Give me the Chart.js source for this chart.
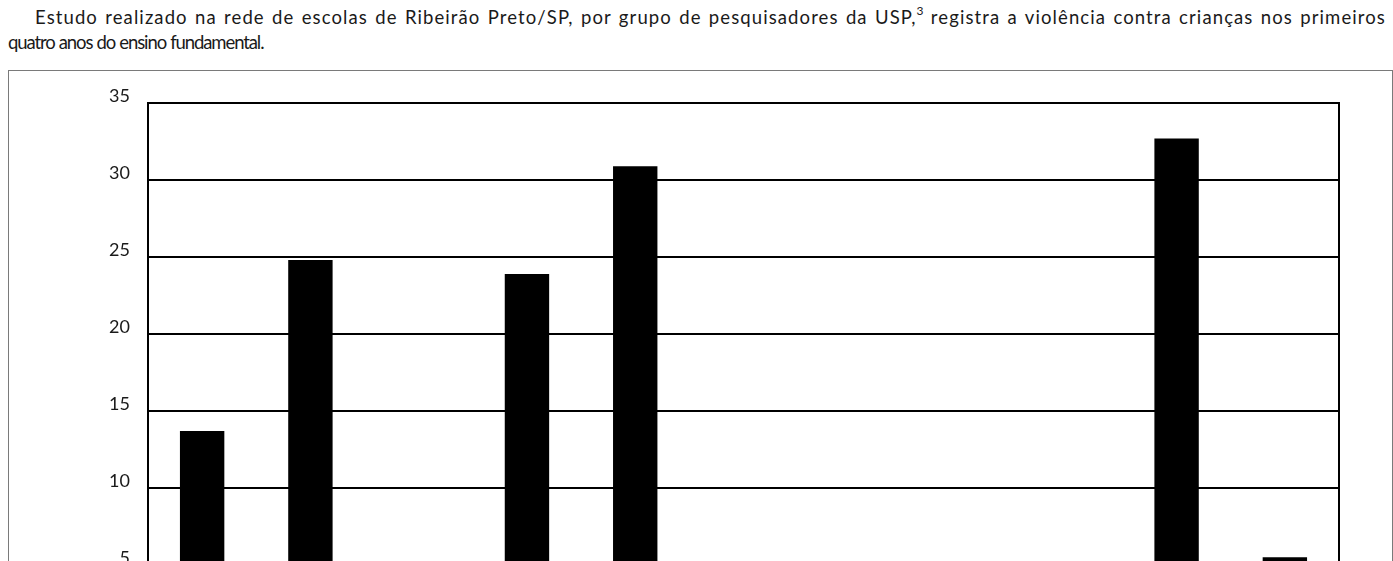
<!DOCTYPE html>
<html lang="pt-BR">
<head>
<meta charset="utf-8">
<script src="https://cdn.jsdelivr.net/npm/chart.js@4"></script>
<style>
  html, body { margin: 0; padding: 0; background: #fff; overflow: hidden; }
  body { width: 1393px; height: 561px; position: relative; font-family: Lato, "Open Sans", sans-serif; color: #1a1a1a; }
  .intro { position: absolute; left: 8px; top: 5px; width: 1378px; font-size: 18.5px; line-height: 25px; }
  .intro .l1 { padding-left: 27px; text-align: justify; text-align-last: justify; letter-spacing: 1.1px; }
  .intro .l2 { letter-spacing: -1.1px; word-spacing: 0.5px; }
  .intro sup { font-size: 12px; line-height: 0; position: relative; top: -2px; letter-spacing: 0; }
  .box { position: absolute; left: 8px; top: 70px; width: 1383px; height: 621px; border: 1px solid #7a7a7a; }
  .box canvas { display: block; }
</style>
</head>
<body>
<div class="intro">
  <div class="l1">Estudo realizado na rede de escolas de Ribeirão Preto/SP, por grupo de pesquisadores da USP,<sup>3</sup> registra a violência contra crianças nos primeiros</div>
  <div class="l2">quatro anos do ensino fundamental.</div>
</div>
<div class="box"><canvas id="chart"></canvas></div>
<script>
/* ── Dados ───────────────────────────────────── */
const categorias = ["1", "2", "3", "4", "5", "6", "7", "8", "9", "10", "11"];
const valores    = [13.7, 24.8, 0, 23.9, 30.9, 0, 0, 0, 0, 32.7, 5.5];
const ticksY     = [0, 5, 10, 15, 20, 25, 30, 35];

const fonteEixo = { family: "Lato", size: 18 };

/* ── Chart ───────────────────────────────────── */
const ctx = document.getElementById("chart").getContext("2d");
new Chart(ctx, {
  type: "bar",
  data: {
    labels: categorias,
    datasets: [
      {
        data: valores,
        backgroundColor: "#000",
        borderWidth: 0,
        barPercentage: 0.41,
        categoryPercentage: 1,
      },
    ],
  },
  options: {
    responsive: true,
    maintainAspectRatio: false,
    animation: false,
    layout: { padding: { top: 32, right: 53, bottom: 10, left: 0 } },
    scales: {
      x: {
        grid: { display: false },
        border: { color: "#000", width: 2 },
        ticks: { color: "#1a1a1a", font: fonteEixo },
        afterFit: (s) => { s.height = 40; },
      },
      y: {
        min: ticksY[0],
        max: ticksY[ticksY.length - 1],
        afterBuildTicks: (s) => { s.ticks = ticksY.map((v) => ({ value: v })); },
        grid: { color: "#000", lineWidth: 2, drawTicks: false },
        border: { color: "#000", width: 2 },
        ticks: { color: "#1a1a1a", font: fonteEixo, padding: 18, labelOffset: -7 },
        afterFit: (s) => { s.width = 139; },
      },
      y2: {
        position: "right",
        min: ticksY[0],
        max: ticksY[ticksY.length - 1],
        grid: { display: false },
        border: { color: "#000", width: 2 },
        ticks: { display: false },
        afterFit: (s) => { s.width = 0; },
      },
    },
    plugins: {
      legend: { display: false },
      tooltip: { enabled: false },
    },
  },
});
</script>
</body>
</html>
